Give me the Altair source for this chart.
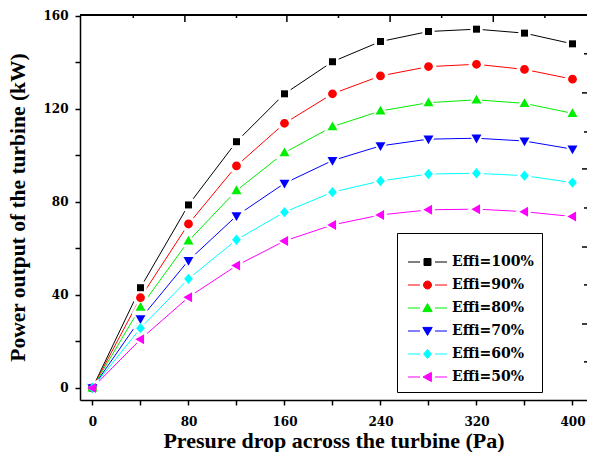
import altair as alt
import pandas as pd

# ---- data ----
pressure_pa = [0, 40, 80, 120, 160, 200, 240, 280, 320, 360, 400]
effi_100 = [0, 43.1, 78.7, 105.9, 126.5, 140.3, 149.0, 153.3, 154.3, 152.6, 148.0]
effi_90 = [0, 38.8, 70.5, 95.5, 113.8, 126.5, 134.2, 138.2, 139.2, 137.0, 132.8]
effi_80 = [0, 34.7, 63.2, 84.9, 101.2, 112.4, 119.1, 122.7, 123.9, 122.4, 118.1]
effi_70 = [0, 29.7, 54.8, 74.0, 88.0, 97.8, 104.1, 107.0, 107.4, 106.2, 102.7]
effi_60 = [0, 25.7, 46.9, 63.7, 75.6, 84.2, 89.0, 92.0, 92.3, 91.3, 88.3]
effi_50 = [0, 20.9, 39.0, 52.6, 63.2, 70.1, 74.4, 76.6, 76.9, 75.8, 73.7]

series_labels = ["Effi=100%", "Effi=90%", "Effi=80%", "Effi=70%", "Effi=60%", "Effi=50%"]
series_colors = ["#000000", "#ff0000", "#00ee00", "#0000ff", "#00ffff", "#ff00ff"]

# marker outlines (unit square -1..1, scaled by the mark size)
marker_paths = [
    "M-0.875,-0.875H0.875V0.875H-0.875Z",
    "M-1.1,0A1.1,1.1 0 1,0 1.1,0A1.1,1.1 0 1,0 -1.1,0Z",
    "M0,-1.3L1.25,0.9L-1.25,0.9Z",
    "M0,1.3L1.25,-0.9L-1.25,-0.9Z",
    "M0,-1.3L1.1,0L0,1.3L-1.1,0Z",
    "M-1.3,0L0.9,-1.25L0.9,1.25Z",
]
# legend glyphs: line - gap - marker - gap - line
legend_paths = [
    "M-1,0H2M5.75,0H8.75M3,-0.875H4.75V0.875H3Z",
    "M-1,0H2M5.75,0H8.75M2.875,0A1,1 0 1,0 4.875,0A1,1 0 1,0 2.875,0Z",
    "M-1,0H2M5.75,0H8.75M3.875,-1.1L5.05,0.9L2.7,0.9Z",
    "M-1,0H2M5.75,0H8.75M3.875,1.1L5.05,-0.9L2.7,-0.9Z",
    "M-1,0H2M5.75,0H8.75M3.875,-1.15L4.85,0L3.875,1.15L2.9,0Z",
    "M-1,0H2M5.75,0H8.75M2.75,0L4.85,-1.15L4.85,1.15Z",
]

x_tick_values = [0, 40, 80, 120, 160, 200, 240, 280, 320, 360, 400]
y_tick_values = [0, 20, 40, 60, 80, 100, 120, 140, 160]
top_short_ticks = [34, 120, 205, 291, 377]
top_long_ticks = [77, 162, 248, 334]
right_short_ticks = [143.7, 110.1, 77.4, 44.3, 11.2]
right_long_ticks = [126.9, 94.2, 60.6, 27.5]

x_domain = [-10.4, 412.1]
y_domain = [-5.2, 160.4]

all_series = [effi_100, effi_90, effi_80, effi_70, effi_60, effi_50]
rows = []
for name, vals in zip(series_labels, all_series):
    for p, v in zip(pressure_pa, vals):
        rows.append({"pressure": p, "power": v, "series": name})
df = pd.DataFrame(rows)

TICK_FONT = "DejaVu Serif"
TITLE_FONT = "Liberation Serif"

xs = alt.Scale(domain=x_domain, nice=False, zero=False)
ys = alt.Scale(domain=y_domain, nice=False, zero=False)
legend_color_scale = alt.Scale(domain=series_labels, range=series_colors)
legend_shape_scale = alt.Scale(domain=series_labels, range=legend_paths)

x_axis_main = alt.Axis(
    orient="bottom", values=x_tick_values,
    labelExpr="datum.value % 80 == 0 ? datum.label : ''",
    grid=False, domain=True, domainColor="black", domainWidth=1.5,
    ticks=True, tickColor="black", tickWidth=1.5, tickSize=5,
    labelFont=TICK_FONT, labelFontWeight="bold", labelFontSize=12, labelColor="black",
    labelPadding=11, labelOverlap=False, labelFlush=False,
    title="Presure drop across the turbine (Pa)",
    titleFont=TITLE_FONT, titleFontWeight="bold", titleFontSize=22, titleColor="black",
    titleY=40, titleBaseline="middle",
)
y_axis_main = alt.Axis(
    orient="left", values=y_tick_values,
    labelExpr="datum.value % 40 == 0 ? datum.label : ''",
    grid=False, domain=True, domainColor="black", domainWidth=1.5,
    ticks=True, tickColor="black", tickWidth=1.5, tickSize=5,
    labelFont=TICK_FONT, labelFontWeight="bold", labelFontSize=12, labelColor="black",
    labelPadding=7, labelOverlap=False, labelFlush=False,
    title="Power output of the turbine (kW)",
    titleFont=TITLE_FONT, titleFontWeight="bold", titleFontSize=21.5, titleColor="black",
    titleX=-62, titleY=192, titleBaseline="middle",
)

legend_box = alt.Legend(
    title=" ", titleFontSize=10, titlePadding=4,
    orient="none", legendX=317, legendY=218, direction="vertical",
    symbolSize=64, symbolStrokeWidth=1,
    labelFont=TICK_FONT, labelFontWeight="bold", labelFontSize=14, labelColor="black",
    labelOffset=33, strokeColor="black", padding=8, rowPadding=9,
)

X_MAIN = alt.X("pressure:Q", scale=xs, axis=x_axis_main)
Y_MAIN = alt.Y("power:Q", scale=ys, axis=y_axis_main)

line_layers = []
gap_layers = []
marker_layers = []
for name, colour, path in zip(series_labels, series_colors, marker_paths):
    sub = alt.Chart(df).transform_filter(alt.datum.series == name)
    line_layers.append(
        sub.mark_line(color=colour, strokeWidth=1).encode(x=X_MAIN, y=Y_MAIN)
    )
    gap_layers.append(
        sub.mark_point(shape=path, filled=True, size=200, color="white", opacity=1)
        .encode(x=X_MAIN, y=Y_MAIN)
    )
    marker_layers.append(
        sub.mark_point(shape=path, filled=True, size=64, color=colour, opacity=1)
        .encode(x=X_MAIN, y=Y_MAIN)
    )

# frame: top border line, inward ticks on the top and right edges
top_border = alt.Chart(df).mark_rule(color="black", strokeWidth=1.5).encode(
    y=alt.datum(y_domain[1])
)


def edge_ticks(values, orient, length):
    data = alt.Chart(pd.DataFrame({"v": values}))
    mark = data.mark_tick(orient=orient, size=2 * length, thickness=1.5,
                          color="black", opacity=1, clip=True)
    if orient == "vertical":
        return mark.encode(x=alt.X("v:Q", scale=xs, axis=x_axis_main),
                           y=alt.datum(y_domain[1]))
    return mark.encode(x=alt.datum(x_domain[1]),
                       y=alt.Y("v:Q", scale=ys, axis=y_axis_main))


frame_layers = [
    top_border,
    edge_ticks(top_short_ticks, "vertical", 3),
    edge_ticks(top_long_ticks, "vertical", 7),
    edge_ticks(right_short_ticks, "horizontal", 3),
    edge_ticks(right_long_ticks, "horizontal", 5),
]

legend_only = alt.Chart(df).transform_filter("false").mark_point(
    filled=True, size=64, opacity=1, strokeWidth=1
).encode(
    x=X_MAIN, y=Y_MAIN,
    fill=alt.Fill("series:N", scale=legend_color_scale, legend=legend_box),
    stroke=alt.Stroke("series:N", scale=legend_color_scale, legend=legend_box),
    shape=alt.Shape("series:N", scale=legend_shape_scale, legend=legend_box),
)

chart = alt.layer(
    *line_layers, *gap_layers, *marker_layers, *frame_layers, legend_only
).properties(
    width=507, height=385,
    padding={"left": 72, "top": 7, "right": 0, "bottom": 52},
    autosize=alt.AutoSizeParams(type="none"),
    background="white",
).configure_view(stroke="transparent")

chart.save("out.html", embed_options={"renderer": "svg", "actions": False})
